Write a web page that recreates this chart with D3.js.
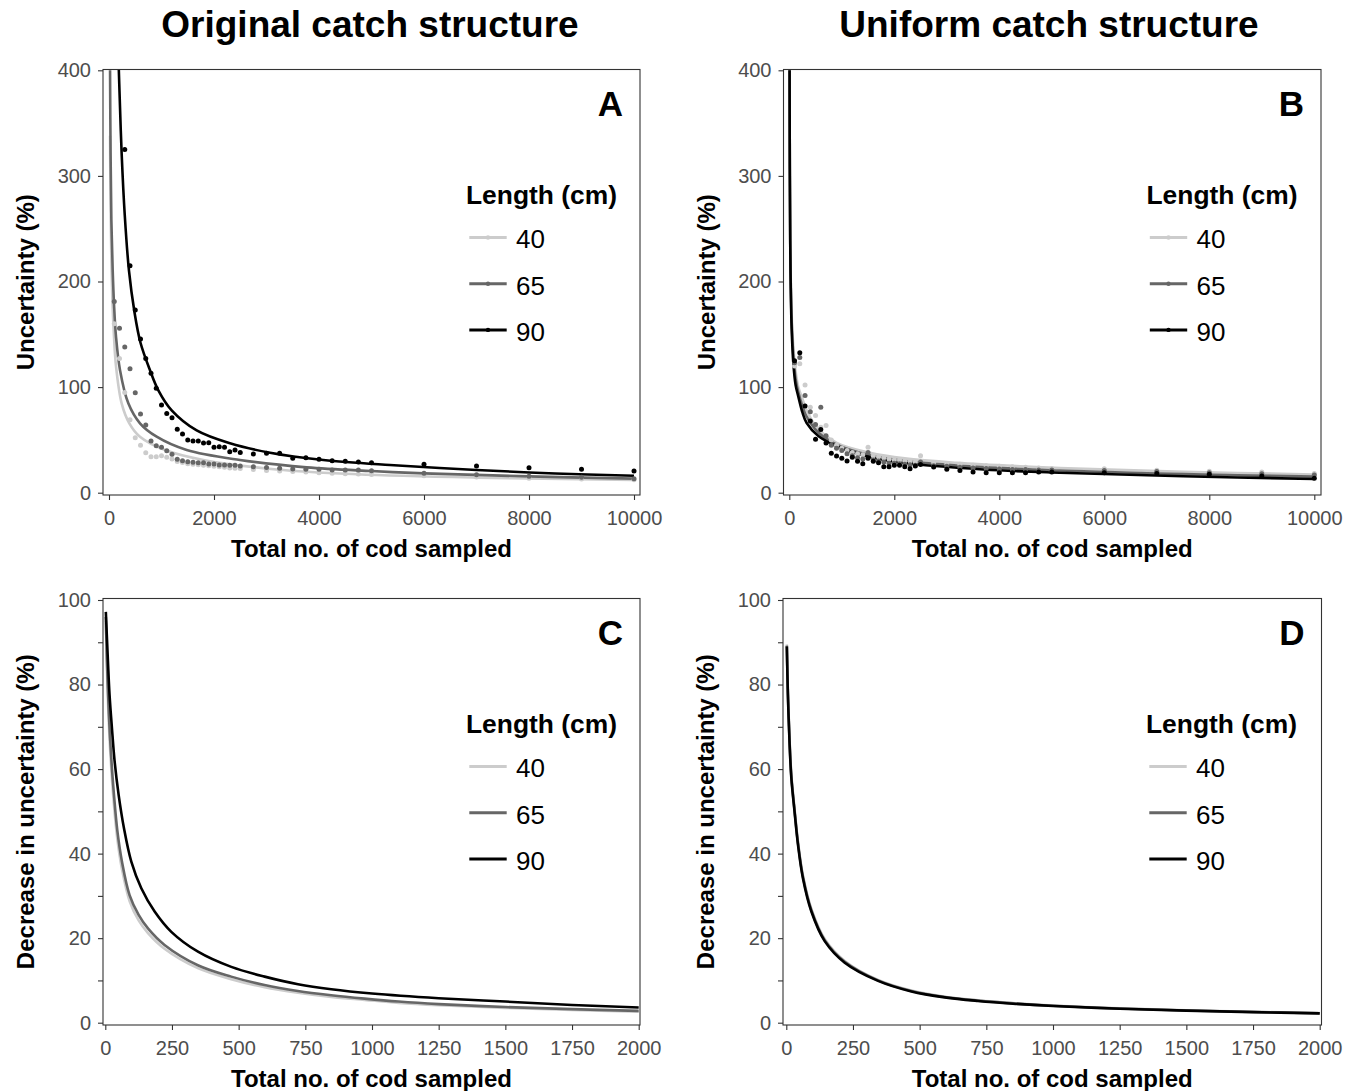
<!DOCTYPE html>
<html><head><meta charset="utf-8">
<script src="https://cdn.jsdelivr.net/npm/d3@7"></script>
<style>body{margin:0;background:#fff} text{font-family:"Liberation Sans",Arial,sans-serif}</style>
</head><body><svg id="c" width="1361" height="1091"></svg>
<script>
// ---------- data ----------
const lengths = ["40", "65", "90"];
const seriesColors = ["#cccccc", "#666666", "#000000"];
const columnTitles = ["Original catch structure", "Uniform catch structure"];
const panelLetters = ["A", "B", "C", "D"];
const xTicksTop = [0, 2000, 4000, 6000, 8000, 10000];
const yTicksTop = [0, 100, 200, 300, 400];
const xTicksBottom = [0, 250, 500, 750, 1000, 1250, 1500, 1750, 2000];
const yTicksBottom = [0, 10, 20, 30, 40, 50, 60, 70, 80, 90, 100];
const yLabelsBottom = [0, 20, 40, 60, 80, 100];

// sample sizes of the simulated points (panels A and B)
const sampleN = [100,200,300,400,500,600,700,800,900,1000,1100,1200,1300,1400,1500,1600,1700,1800,1900,2000,2100,2200,2300,2400,2500,
  2750,3000,3250,3500,3750,4000,4250,4500,4750,5000,6000,7000,8000,9000,10000];

// Panel A points (uncertainty %)
const ptsA40 = [160,127,95,69,52,45,37.9,34,34,35,33.5,32,29.5,28.5,27.5,27,26.5,26,25.5,25,24.5,24,23.5,23.2,23,
  22,21,20.5,20,19.5,19,18.5,18,17.7,17.3,16,14.8,13.8,13,12.3];
const ptsA65 = [181,155.7,138,117.4,94.7,74.5,64,49,44.5,43,39.8,36.3,31.6,30.3,29.4,28.8,28.4,28.4,27.2,27.2,26.2,26.2,25.9,25.9,25.3,
  24.6,23.9,23.1,22.5,22.2,22.2,21.5,21.5,21.5,20.9,18.4,17,15.5,14.6,13.3];
const ptsA90 = [null,null,325,215,173,145.5,127,113,99,83,75,71,60,55.6,50,49,49,47,47.3,43,43.6,43,38.8,40.4,38,
  36.6,37.3,37.3,32.6,33,31.6,30.3,29.7,29,28.4,26.9,25.3,23.7,22.2,20.5];
// Panel B points
const ptsB40 = [120,122,102,81,73,62,63.7,50,45,42,40,38,37,36,43,35,34,33,32,31,31,30,30,29,35,
  28.5,27.5,27,26,25.5,25,24.5,24,23.5,23,22.6,21.3,20.4,19.5,18.3];
const ptsB65 = [123,128,92,76.7,64.6,81,54,45,42,40,37,35,33,32,38,31,30,29,28,28,27.5,27,26.5,26,29,
  25.5,25,24,23.5,23,22.5,22,22,21.5,21.5,21,20,19,18,16.8];
const ptsB90 = [125,132.6,82,68,50.5,59.9,47,37.3,34.8,32.6,30,33.5,29.9,27.4,32.6,29.9,28.4,24.6,24.6,26.1,26.1,24.6,22.7,25.2,26.8,
  24.3,22.1,21.1,19.5,19,19,19,19,19.5,19.5,18.9,18.3,17.4,15.8,13.6];

// fitted curves as [n, value]
const fitA40 = [[20,338],[30,273],[45,220],[65,181],[95,148],[133,120],[241,84.6],[387,65.7],[590,53],[1067,40.4],[1797,31],[3194,22],[4717,17.5],[7000,14.3],[10000,12]];
const fitA65 = [[20,400],[30,322],[45,258],[70,211],[95,179],[133,148],[210,116],[368,84.6],[590,65.7],[908,53],[1480,40.4],[2495,31],[3765,24],[5000,20.5],[6000,18.3],[8000,15.5],[10000,13.3]];
const fitA90 = [[175,420],[200,380],[242,320],[300,263],[381,210],[482,172],[600,142],[781,116],[940,97],[1194,78],[1670,59],[2305,46.8],[3067,37.9],[4083,31],[5352,26.2],[7000,21.5],[8500,18.2],[10000,16]];
const fitB40 = [[5,400],[10,305],[18,240],[27,205],[45,168],[77,138],[120,115],[172,100],[235,91],[331,78],[521,62],[903,47.2],[1537,37.8],[2200,32.5],[3188,28.3],[4394,25],[5156,23.4],[7500,19.8],[10000,17.3]];
const fitB65 = [[5,400],[10,306],[18,238],[27,200],[45,162],[77,130],[120,108],[172,95],[250,82],[331,72],[553,57],[903,45.5],[1474,36.2],[2172,30.3],[3695,24.2],[5150,21],[7500,17.6],[10000,15.2]];
const fitB90 = [[5.5,400],[10,307],[18,235],[27,196],[45,155],[77,122.5],[120,102],[172,91],[250,76],[331,66],[553,53.6],[903,44],[1474,34.6],[2172,28.3],[3695,22],[5150,18.9],[7500,15.6],[10000,13]];
// decrease in uncertainty (%)
const fitC40 = [[2,95],[6,84],[10,76],[16,67],[24,58.5],[32.5,51.5],[45,43.5],[62.5,36.3],[91,28.8],[125,24.2],[160,21.2],[222,17.5],[347,12.9],[472,10.3],[597,8.4],[722,7.1],[847,6.1],[972,5.4],[1100,4.7],[1250,4.15],[1500,3.5],[1750,3.0],[2000,2.6]];
const fitC65 = [[2,96],[6,86],[10,78.5],[16,69.6],[24,61],[32.5,53.9],[45,45.5],[62.5,38.1],[91,30.2],[125,25.5],[160,22.3],[222,18.4],[347,13.6],[472,10.9],[597,8.9],[722,7.5],[847,6.5],[972,5.7],[1100,5.0],[1250,4.4],[1500,3.7],[1750,3.2],[2000,2.8]];
const fitC90 = [[2,97.2],[10,85.4],[16,77.5],[25,69.6],[35,61.8],[50,53.9],[70,46],[97.5,38.1],[135,31.8],[185,26.3],[247.5,21.5],[347.5,16.8],[472.5,13.2],[597.5,10.9],[722.5,9.1],[847.5,7.9],[1000,6.9],[1250,5.8],[1500,5.0],[1750,4.2],[2000,3.6]];
const fitD40 = [[2,89.5],[6,78.5],[12.5,66.6],[19,58.6],[31,50.5],[44,42.7],[62.5,34.8],[94,26.9],[144,19.8],[219,14.6],[344,10.1],[469,7.6],[594,6.15],[719,5.3],[850,4.65],[1000,4.07],[1250,3.4],[1500,2.95],[1750,2.58],[2000,2.27]];
const fitD65 = [[2,89.2],[6,78],[12.5,66.2],[19,58.2],[31,50.2],[44,42.4],[62.5,34.5],[94,26.6],[144,19.5],[219,14.4],[344,10],[469,7.5],[594,6.08],[719,5.22],[850,4.57],[1000,4.01],[1250,3.35],[1500,2.9],[1750,2.54],[2000,2.23]];
const fitD90 = [[2,89],[6,77.5],[12.5,65.7],[19,57.8],[31,49.9],[44,42],[62.5,34.1],[94,26.3],[144,19.3],[219,14.2],[344,9.9],[469,7.4],[594,6.0],[719,5.15],[850,4.5],[1000,3.95],[1250,3.3],[1500,2.85],[1750,2.5],[2000,2.2]];

// ---------- drawing ----------
const svg = d3.select("#c");
const panels = [
  {id:"A", box:{l:103, r:640, t:69.5, b:495}, xDom:[0,10000], xR:[109,634], yDom:[0,400], yR:[492.7,70.3],
   xt:xTicksTop, yt:yTicksTop, yl:yTicksTop, ytitle:"Uncertainty (%)",
   fits:[fitA40,fitA65,fitA90], pts:[ptsA40,ptsA65,ptsA90], legendPts:true},
  {id:"B", box:{l:783.5, r:1321, t:69.5, b:495}, xDom:[0,10000], xR:[789.3,1314.3], yDom:[0,400], yR:[492.7,70.3],
   xt:xTicksTop, yt:yTicksTop, yl:yTicksTop, ytitle:"Uncertainty (%)",
   fits:[fitB40,fitB65,fitB90], pts:[ptsB40,ptsB65,ptsB90], legendPts:true},
  {id:"C", box:{l:103, r:640, t:598.5, b:1025}, xDom:[0,2000], xR:[105.3,638.7], yDom:[0,100], yR:[1022.7,600],
   xt:xTicksBottom, yt:yTicksBottom, yl:yLabelsBottom, ytitle:"Decrease in uncertainty (%)",
   fits:[fitC40,fitC65,fitC90], pts:null, legendPts:false},
  {id:"D", box:{l:783, r:1321.5, t:598.5, b:1025}, xDom:[0,2000], xR:[786.3,1319.7], yDom:[0,100], yR:[1022.7,600],
   xt:xTicksBottom, yt:yTicksBottom, yl:yLabelsBottom, ytitle:"Decrease in uncertainty (%)",
   fits:[fitD40,fitD65,fitD90], pts:null, legendPts:false}
];

const tickFont = 20, tickCol = "#4d4d4d", lineCol = "#333333";

panels.forEach((p, pi) => {
  const x = d3.scaleLinear().domain(p.xDom).range(p.xR);
  const y = d3.scaleLinear().domain(p.yDom).range(p.yR);
  const b = p.box;
  const g = svg.append("g");
  const clipId = "clip" + p.id;
  svg.append("clipPath").attr("id", clipId).append("rect")
    .attr("x", b.l).attr("y", b.t).attr("width", b.r - b.l).attr("height", b.b - b.t);
  const plot = g.append("g").attr("clip-path", `url(#${clipId})`);
  const line = d3.line().x(d => x(d[0])).y(d => y(d[1])).curve(d3.curveCatmullRom.alpha(0.5));
  p.fits.forEach((f, i) => {
    plot.append("path").datum(f).attr("d", line).attr("fill", "none")
      .attr("stroke", seriesColors[i]).attr("stroke-width", 2.6).attr("stroke-linejoin","round");
  });
  if (p.pts) {
    p.pts.forEach((arr, i) => {
      const data = sampleN.map((n, k) => [n, arr[k]]).filter(d => d[1] != null);
      plot.selectAll(null).data(data).enter().append("circle")
        .attr("cx", d => x(d[0])).attr("cy", d => y(d[1])).attr("r", 2.5)
        .attr("fill", seriesColors[i]);
    });
  }
  // border
  g.append("rect").attr("x", b.l).attr("y", b.t).attr("width", b.r - b.l).attr("height", b.b - b.t)
    .attr("fill", "none").attr("stroke", lineCol).attr("stroke-width", 1.1);
  // axes
  const xa = g.append("g").attr("transform", `translate(0,${b.b})`)
    .call(d3.axisBottom(x).tickValues(p.xt).tickSize(5).tickPadding(11).tickFormat(d3.format("d")));
  const ya = g.append("g").attr("transform", `translate(${b.l},0)`)
    .call(d3.axisLeft(y).tickValues(p.yt).tickSize(5).tickPadding(7)
      .tickFormat(d => p.yl.includes(d) ? d3.format("d")(d) : ""));
  [xa, ya].forEach(a => {
    a.select(".domain").remove();
    a.selectAll(".tick line").attr("stroke", lineCol).attr("stroke-width", 1.1);
    a.selectAll(".tick text").attr("fill", tickCol).style("font-size", tickFont + "px")
      .style("font-family", '"Liberation Sans", Arial, sans-serif');
  });
  // axis titles
  g.append("text").attr("x", (b.l + b.r) / 2).attr("y", b.b + 62).attr("text-anchor", "middle")
    .style("font-size", "24px").style("font-weight", "bold").text("Total no. of cod sampled");
  const yc = (b.t + b.b) / 2;
  g.append("text").attr("transform", `translate(${b.l - 69},${yc}) rotate(-90)`).attr("text-anchor", "middle")
    .style("font-size", "24px").style("font-weight", "bold").text(p.ytitle);
  // panel letter
  g.append("text").attr("x", b.r - 17).attr("y", b.t + 46.5).attr("text-anchor", "end")
    .style("font-size", "35px").style("font-weight", "bold").text(panelLetters[pi]);
  // legend
  const lg = g.append("g").attr("transform", `translate(${b.l},${b.t})`);
  lg.append("text").attr("x", 363).attr("y", 134.5).style("font-size", "26.4px").style("font-weight", "bold").text("Length (cm)");
  lengths.forEach((L, i) => {
    const ky = 168 + i * 46.2;
    lg.append("line").attr("x1", 366.3).attr("x2", 403.7).attr("y1", ky).attr("y2", ky)
      .attr("stroke", seriesColors[i]).attr("stroke-width", 3);
    if (p.legendPts) lg.append("circle").attr("cx", 385).attr("cy", ky).attr("r", 2.2).attr("fill", seriesColors[i]);
    lg.append("text").attr("x", 413).attr("y", ky + 10.8).style("font-size", "26px").attr("fill", "#000").text(L);
  });
});

// column titles
svg.append("text").attr("x", 370).attr("y", 37).attr("text-anchor", "middle")
  .style("font-size", "37px").style("font-weight", "bold").text(columnTitles[0]);
svg.append("text").attr("x", 1049).attr("y", 37).attr("text-anchor", "middle")
  .style("font-size", "37px").style("font-weight", "bold").text(columnTitles[1]);
</script></body></html>
